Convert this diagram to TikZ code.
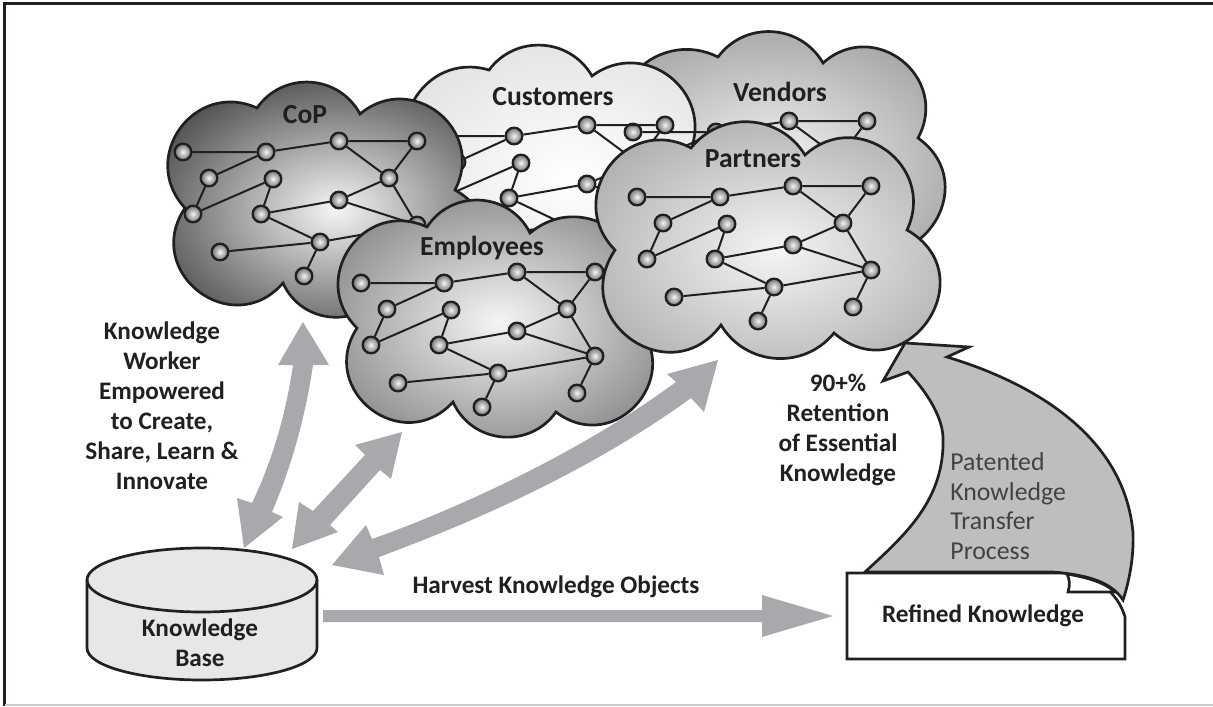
\documentclass[tikz,border=0pt]{standalone}
\usepackage{fontspec}
\setmainfont{Carlito}
\usetikzlibrary{calc}
\definecolor{ink}{HTML}{231F20}
\definecolor{arrowgray}{HTML}{A7A9AC}
\definecolor{curlgray}{HTML}{BCBEC0}
\definecolor{dbfill}{HTML}{E6E7E8}
\tikzset{
  peer/.style={circle,draw=ink,line width=1.15pt,minimum size=8.3pt,inner sep=0pt,inner color=white!92!gray,outer color=gray!90!black},
  link/.style={draw=ink,line width=1pt},
  cloudline/.style={draw=ink,line width=1.35pt},
  blockarrow/.style={fill=arrowgray,draw=none},
  lab/.style={text=ink,font=\fontsize{12.6pt}{15pt}\selectfont\bfseries,align=center,inner sep=0pt},
  biglab/.style={text=ink,font=\fontsize{13.8pt}{15pt}\selectfont\bfseries,inner sep=0pt},
  thinlab/.style={text=ink!85,font=\fontsize{12.9pt}{14.8pt}\selectfont,align=left,inner sep=0pt}
}
\def\bp#1#2#3{.. controls ($(#1)!{1.3333*#3/sin(2*atan(2*#3))}!{2*atan(2*#3)}:(#2)$) and ($(#2)!{1.3333*#3/sin(2*atan(2*#3))}!{-2*atan(2*#3)}:(#1)$) .. (#2)}
\newcommand{\peernet}[3]{%
\begin{scope}[shift={(#2,#3)}]
  \node[peer] (#1a) at (361,283) {};
  \node[peer] (#1b) at (444,283) {};
  \node[peer] (#1c) at (517,272) {};
  \node[peer] (#1d) at (595,272) {};
  \node[peer] (#1e) at (387,309) {};
  \node[peer] (#1f) at (451,310) {};
  \node[peer] (#1g) at (567,309) {};
  \node[peer] (#1h) at (371,345) {};
  \node[peer] (#1i) at (439,345) {};
  \node[peer] (#1j) at (517,331) {};
  \node[peer] (#1k) at (595,356) {};
  \node[peer] (#1l) at (398,383) {};
  \node[peer] (#1m) at (498,373) {};
  \node[peer] (#1n) at (482,407) {};
  \node[peer] (#1o) at (577,393) {};
  \draw[link] (#1a)--(#1b) (#1b)--(#1c) (#1c)--(#1d) (#1b)--(#1e) (#1e)--(#1h) (#1h)--(#1f) (#1f)--(#1i)
    (#1i)--(#1j) (#1j)--(#1g) (#1g)--(#1d) (#1c)--(#1g) (#1g)--(#1k) (#1j)--(#1k) (#1i)--(#1m)
    (#1m)--(#1k) (#1l)--(#1m) (#1m)--(#1n) (#1k)--(#1o);
\end{scope}}
\begin{document}
\begin{tikzpicture}[x=.5pt,y=-.5pt]
\useasboundingbox (0,0) rectangle (1213,706);
\draw[ink,line width=1.4pt] (4.5,706) -- (4.5,3.5) -- (1213,3.5);
\draw[gray!40,line width=.6pt] (4.5,705) -- (1213,705);
% Vendors
\path[cloudline,inner color=white!92!gray,outer color=gray!72] (620,140) \bp{620,140}{718,57}{.33} \bp{718,57}{823,63}{.27} \bp{823,63}{918,138}{.42} \bp{918,138}{845,240}{.5} \bp{845,240}{735,235}{.27} \bp{735,235}{620,140}{.5} -- cycle;
% Customers
\path[cloudline,inner color=white,outer color=gray!22] (427,181) \bp{427,181}{489,70}{.4} \bp{489,70}{592,76}{.27} \bp{592,76}{690,152}{.38} \bp{690,152}{626,265}{.5} \bp{626,265}{523,255}{.27} \bp{523,255}{427,181}{.5} -- cycle;
\peernet{v}{272}{-151}
\peernet{u}{70}{-147}
% CoP
\path[cloudline,inner color=white!92!gray,outer color=black!68] (185,208) \bp{185,208}{257,108}{.41} \bp{257,108}{360,114}{.28} \bp{360,114}{455,190}{.41} \bp{455,190}{385,290}{.55} \bp{385,290}{283,283}{.3} \bp{283,283}{185,208}{.47} -- cycle;
\peernet{c}{-178}{-131}
% Employees
\path[cloudline,inner color=white!92!gray,outer color=black!45] (357,328) \bp{357,328}{427,227}{.42} \bp{427,227}{530,233}{.29} \bp{530,233}{632,320}{.42} \bp{632,320}{556,412}{.48} \bp{556,412}{453,402}{.29} \bp{453,402}{357,328}{.46} -- cycle;
\peernet{e}{0}{0}
% Partners
\path[cloudline,inner color=white!92!gray,outer color=gray!62] (615,250) \bp{615,250}{691,148}{.43} \bp{691,148}{805,155}{.26} \bp{805,155}{907,230}{.41} \bp{907,230}{834,333}{.55} \bp{834,333}{721,325}{.26} \bp{721,325}{615,250}{.49} -- cycle;
\peernet{p}{276}{-86}
% block arrows
\fill[blockarrow] (303,322) -- (329,365) -- (313,365) .. controls (305,420) and (290,470) .. (272,512) -- (283,517) -- (244,548) -- (237,498) -- (252,503) .. controls (270,465) and (285,420) .. (293,365) -- (278,365) -- cycle;
\fill[blockarrow] (402,432) -- (391,479) -- (380,470) -- (330,525) -- (338,532) -- (292,549) -- (299,502) -- (313,511) -- (365,455) -- (355,445) -- cycle;
\fill[blockarrow] (718,360) -- (704,412) -- (691,398) .. controls (585,475) and (465,525) .. (379,557) -- (384,575) -- (332,565) -- (366,525) -- (372,539) .. controls (440,515) and (570,460) .. (676,382) -- (667,374) -- cycle;
\fill[blockarrow] (323,610) -- (762,610) -- (762,595) -- (833,616) -- (762,637) -- (762,622) -- (323,622) -- cycle;
% database
\path[cloudline,fill=dbfill] (87,580) -- (87,648) arc[start angle=180,end angle=360,x radius=115,y radius=-32] -- (317,580) arc[start angle=0,end angle=180,x radius=115,y radius=-32] -- cycle;
\draw[cloudline] (87,580) arc[start angle=180,end angle=360,x radius=115,y radius=-32];
\node[lab] (kb) at (200,643) {Knowledge\\Base};
% document and curl
\path[cloudline,fill=white] (847,573) -- (1067,573) .. controls (1095,577) and (1117,590) .. (1125,617) -- (1125,659) -- (847,659) -- cycle;
\path[cloudline,fill=curlgray] (865,572) .. controls (905,535) and (945,500) .. (943,437) .. controls (942,415) and (925,390) .. (908,372) -- (883,381) -- (905,343) -- (969,347) -- (947,357) .. controls (1040,385) and (1125,440) .. (1133,533) .. controls (1134,560) and (1128,585) .. (1123,600) .. controls (1112,583) and (1090,575) .. (1053,572) -- cycle;
\path[cloudline,fill=white] (1067,574) .. controls (1090,578) and (1105,583) .. (1115,592) -- (1068,592) .. controls (1070,585) and (1070,580) .. (1067,574) -- cycle;
\node[lab] (ref) at (983,616) {Refined Knowledge};
\node[thinlab,anchor=west] (pat) at (950,506) {Patented\\Knowledge\\Transfer\\Process};
% labels
\node[lab] (ret) at (838,430) {90+\%\\Retention\\of Essential\\Knowledge};
\node[lab] (kw) at (162,406) {Knowledge\\Worker\\Empowered\\to Create,\\Share, Learn \&\\Innovate};
\node[lab] (har) at (556,587) {Harvest Knowledge Objects};
\node[biglab] (ncop) at (305,115) {CoP};
\node[biglab] (ncus) at (553,97) {Customers};
\node[biglab] (nven) at (780,92) {Vendors};
\node[biglab] (npar) at (753,159) {Partners};
\node[biglab] (nemp) at (482,248) {Employees};
\end{tikzpicture}
\end{document}
